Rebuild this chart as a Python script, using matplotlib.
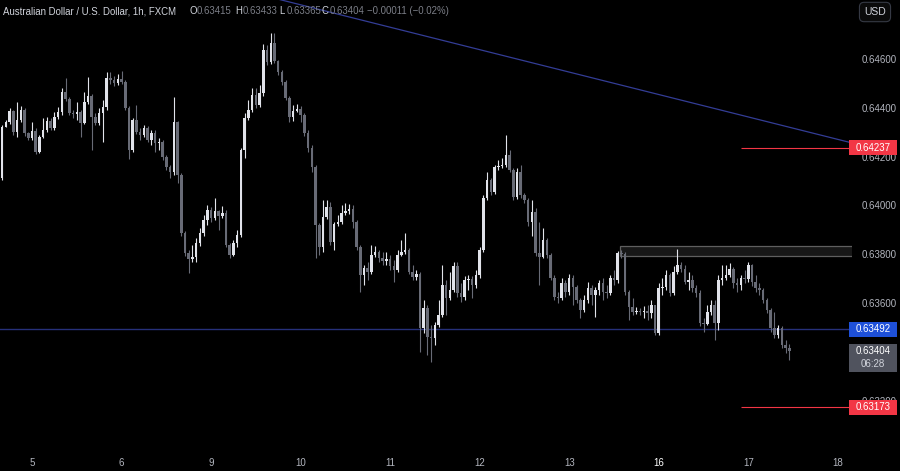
import matplotlib.pyplot as plt
import matplotlib.transforms as mtransforms
from matplotlib.patches import Rectangle
import numpy as np

plt.rcParams['font.family'] = ['Liberation Sans', 'DejaVu Sans']

# AUD/USD 1h candles (first bar = 4th 16:00)
first_open = 0.64112
close = [64321, 64342, 64387, 64301, 64350, 64391, 64297, 64276, 64305, 64219,
         64280, 64309, 64346, 64317, 64362, 64383, 64465, 64436, 64379, 64375,
         64383, 64338, 64424, 64448, 64362, 64338, 64379, 64403, 64522, 64514,
         64502, 64518, 64506, 64399, 64227, 64350, 64301, 64289, 64317, 64268,
         64297, 64256, 64260, 64198, 64157, 64137, 64342, 64125, 63887, 63805,
         63780, 63788, 63846, 63887, 63940, 63981, 63948, 63977, 63956, 63969,
         63838, 63797, 63846, 63879, 64227, 64358, 64391, 64453, 64412, 64461,
         64637, 64588, 64666, 64592, 64547, 64506, 64440, 64362, 64387, 64395,
         64371, 64297, 64235, 64157, 63920, 63829, 63952, 63993, 63850, 63924,
         63932, 63969, 63977, 63985, 63932, 63829, 63715, 63743, 63727, 63797,
         63809, 63784, 63772, 63780, 63751, 63735, 63797, 63809, 63817, 63727,
         63706, 63719, 63497, 63579, 63460, 63456, 63510, 63551, 63674, 63620,
         63653, 63751, 63641, 63624, 63694, 63698, 63674, 63715, 63817, 64030,
         64104, 64055, 64157, 64161, 64166, 64207, 64145, 64034, 64137, 64043,
         64022, 63932, 63973, 63805, 63788, 63858, 63797, 63702, 63624, 63620,
         63682, 63645, 63702, 63665, 63612, 63571, 63612, 63661, 63633, 63653,
         63682, 63645, 63641, 63702, 63694, 63805, 63801, 63645, 63583, 63563,
         63567, 63563, 63567, 63559, 63592, 63477, 63661, 63665, 63715, 63641,
         63727, 63756, 63739, 63686, 63694, 63661, 63641, 63518, 63514, 63563,
         63592, 63518, 63694, 63702, 63715, 63739, 63682, 63674, 63702, 63698,
         63756, 63686, 63661, 63653, 63612, 63571, 63497, 63469, 63497, 63428,
         63415, 63404]
high = [64330, 64350, 64399, 64391, 64424, 64407, 64399, 64301, 64342, 64317,
        64289, 64358, 64362, 64358, 64383, 64403, 64481, 64522, 64444, 64391,
        64424, 64391, 64465, 64526, 64457, 64379, 64399, 64432, 64547, 64547,
        64530, 64539, 64551, 64514, 64407, 64358, 64412, 64317, 64330, 64325,
        64309, 64309, 64276, 64268, 64207, 64166, 64444, 64346, 64133, 63895,
        63817, 63838, 63866, 63907, 63960, 64002, 63993, 64030, 63981, 63997,
        63981, 63846, 63858, 63899, 64235, 64379, 64432, 64481, 64481, 64494,
        64662, 64658, 64707, 64707, 64596, 64555, 64514, 64448, 64412, 64416,
        64407, 64379, 64309, 64248, 64166, 63928, 64022, 64022, 64014, 63932,
        63960, 64002, 64010, 64006, 64002, 63940, 63838, 63756, 63768, 63838,
        63833, 63817, 63809, 63809, 63797, 63776, 63817, 63858, 63887, 63825,
        63756, 63735, 63727, 63612, 63592, 63510, 63522, 63612, 63756, 63694,
        63727, 63768, 63768, 63682, 63710, 63715, 63710, 63735, 63829, 64043,
        64137, 64112, 64166, 64186, 64194, 64289, 64227, 64153, 64153, 64166,
        64051, 64030, 64022, 63989, 63932, 63907, 63866, 63805, 63715, 63645,
        63702, 63694, 63719, 63715, 63674, 63620, 63633, 63686, 63674, 63665,
        63694, 63702, 63674, 63715, 63735, 63813, 63817, 63809, 63653, 63620,
        63583, 63579, 63587, 63592, 63612, 63592, 63682, 63702, 63735, 63723,
        63751, 63821, 63768, 63756, 63727, 63715, 63674, 63653, 63538, 63592,
        63612, 63612, 63715, 63756, 63756, 63764, 63747, 63702, 63715, 63735,
        63768, 63760, 63715, 63682, 63661, 63620, 63579, 63563, 63510, 63505,
        63448, 63433]
low = [64104, 64321, 64334, 64289, 64280, 64342, 64284, 64268, 64268, 64211,
       64215, 64276, 64301, 64309, 64309, 64354, 64371, 64428, 64371, 64358,
       64350, 64280, 64334, 64416, 64227, 64330, 64330, 64260, 64391, 64498,
       64489, 64494, 64498, 64391, 64190, 64219, 64293, 64268, 64280, 64260,
       64248, 64219, 64227, 64186, 64145, 64112, 64125, 64092, 63874, 63792,
       63723, 63768, 63768, 63833, 63874, 63920, 63932, 63940, 63899, 63948,
       63829, 63784, 63792, 63829, 63870, 64194, 64350, 64383, 64399, 64403,
       64448, 64576, 64580, 64584, 64535, 64494, 64432, 64342, 64346, 64383,
       64342, 64284, 64219, 64137, 63784, 63797, 63809, 63944, 63838, 63817,
       63915, 63924, 63960, 63965, 63907, 63817, 63645, 63674, 63694, 63719,
       63788, 63768, 63756, 63756, 63735, 63686, 63727, 63792, 63801, 63719,
       63694, 63694, 63399, 63477, 63387, 63358, 63428, 63501, 63542, 63551,
       63612, 63645, 63624, 63604, 63612, 63653, 63620, 63661, 63702, 63809,
       64022, 64043, 64047, 64145, 64153, 64157, 64137, 64022, 64026, 64030,
       64010, 63915, 63874, 63792, 63674, 63784, 63784, 63694, 63612, 63600,
       63612, 63624, 63633, 63592, 63600, 63538, 63563, 63600, 63592, 63542,
       63633, 63612, 63620, 63633, 63674, 63682, 63784, 63633, 63530, 63551,
       63555, 63551, 63538, 63530, 63538, 63469, 63469, 63633, 63653, 63628,
       63633, 63719, 63727, 63678, 63653, 63645, 63624, 63505, 63481, 63510,
       63551, 63448, 63489, 63674, 63694, 63706, 63661, 63645, 63653, 63682,
       63686, 63669, 63645, 63633, 63600, 63559, 63481, 63456, 63456, 63415,
       63395, 63365]

day_labels = ['5', '6', '9', '10', '11', '12', '13', '16', '17', '18']
day_start = [8, 32, 56, 80, 104, 128, 152, 176, 200, 224]
# 0.63400 sits under the last-price tag, so it is not listed
price_ticks = [0.632, 0.636, 0.638, 0.640, 0.642, 0.644, 0.646]

support = 0.63492
red_levels = [0.64237, 0.63173]
red_start = 198
zone_low, zone_high = 0.63794, 0.63834
zone_start = 165.6
trend_x = [69.6, 227.8]
trend_y = [0.64862, 0.64256]
last_o, last_h, last_l, last_c = 0.63415, 0.63433, 0.63365, 0.63404
change_txt = '\u22120.00011 (\u22120.02%)'
countdown = '06:28'

UP, DOWN = '#e1e3ea', '#686b76'
TXT = '#b2b5be'
BG = '#000000'

c = np.array(close) / 1e5
h = np.array(high) / 1e5
l = np.array(low) / 1e5
o = np.concatenate([[first_open], c[:-1]])
h = np.maximum(h, np.maximum(o, c))
l = np.minimum(l, np.minimum(o, c))
idx = np.arange(len(c))
cols = [UP if cc >= oo else DOWN for oo, cc in zip(o, c)]

fig = plt.figure(figsize=(9, 4.71), dpi=100, facecolor=BG)
ax = fig.add_axes([0, 23 / 471, 852 / 900, 448 / 471])
ax.set_facecolor(BG)
xmax = 227.8
ax.set_xlim(-0.58, xmax)
ax.set_ylim(0.630057, 0.648418)

# levels / drawings
ax.axhline(support, color='#26307a', lw=1.0, zorder=1)
ax.plot(trend_x, trend_y, color='#333d96', lw=0.9, zorder=1)
for lv in red_levels:
    ax.hlines(lv, red_start, xmax, color='#f23645', lw=0.8, zorder=1)
ax.add_patch(Rectangle((zone_start, zone_low), xmax + 5 - zone_start, zone_high - zone_low,
                       facecolor='#171717', edgecolor='#5f5f5f', lw=0.9, zorder=1))

# candles
ax.vlines(idx, l, h, colors=cols, lw=0.8, zorder=2)
body = np.maximum(np.abs(c - o), 0.00003)
ax.bar(idx, body, bottom=np.minimum(o, c), width=0.68, color=cols, lw=0, zorder=3)

for s in ax.spines.values():
    s.set_visible(False)
ax.yaxis.tick_right()
ax.set_yticks(price_ticks)
ax.set_yticklabels([f'{p:.5f}' for p in price_ticks])
ax.tick_params(axis='y', length=0, pad=7, labelsize=7, labelcolor=TXT)
ax.set_xticks(day_start)
ax.set_xticklabels(day_labels)
ax.tick_params(axis='x', length=0, pad=7, labelsize=7, labelcolor=TXT)
ax.get_xticklabels()[7].set_color('#ffffff')

# price tags on the right scale
tr = mtransforms.blended_transform_factory(fig.transFigure, ax.transData)
px = 1 / 24400  # price per pixel


def tag(price, color, text, tcolor='white'):
    ax.add_patch(Rectangle((849 / 900, price - 7.5 * px), 48 / 900, 15 * px, transform=tr,
                           facecolor=color, edgecolor='none', clip_on=False, zorder=6))
    ax.text(873 / 900, price, text, transform=tr, ha='center', va='center',
            fontsize=7, color=tcolor, clip_on=False, zorder=7)


tag(red_levels[0], '#f23645', f'{red_levels[0]:.5f}')
tag(support, '#1e50d8', f'{support:.5f}')
tag(red_levels[1], '#f23645', f'{red_levels[1]:.5f}')
ax.add_patch(Rectangle((849 / 900, last_c - 21 * px), 48 / 900, 28 * px, transform=tr,
                       facecolor='#50535e', edgecolor='none', clip_on=False, zorder=6))
ax.text(873 / 900, last_c, f'{last_c:.5f}', transform=tr, ha='center', va='center',
        fontsize=7, color='white', clip_on=False, zorder=7)
ax.text(873 / 900, last_c - 13 * px, countdown, transform=tr, ha='center', va='center',
        fontsize=7, color='#d1d4dc', clip_on=False, zorder=7)

# USD box
fig.text(875 / 900, 1 - 12 / 471, 'USD', ha='center', va='center', fontsize=7.5, color='#d1d4dc',
         bbox=dict(boxstyle='round,pad=0.45', fc='#0b0b0b', ec='#363a45', lw=0.8))

# header legend
hy = 1 - 11 / 471
fs = 6.9
fig.text(3 / 900, hy, 'Australian Dollar / U.S. Dollar, 1h, FXCM', fontsize=fs,
         color='#d1d4dc', va='center')
parts = [(189, 'O', f'{last_o:.5f}'), (235, 'H', f'{last_h:.5f}'),
         (279, 'L', f'{last_l:.5f}'), (322, 'C', f'{last_c:.5f}')]
for xp, lab, val in parts:
    fig.text(xp / 900, hy, lab, fontsize=fs, color='#d1d4dc', va='center')
    fig.text((xp + 8) / 900, hy, val, fontsize=fs, color='#7c7f88', va='center')
fig.text(367 / 900, hy, change_txt, fontsize=fs, color='#7c7f88', va='center')

fig.savefig('out.png', dpi=100, facecolor=BG)
